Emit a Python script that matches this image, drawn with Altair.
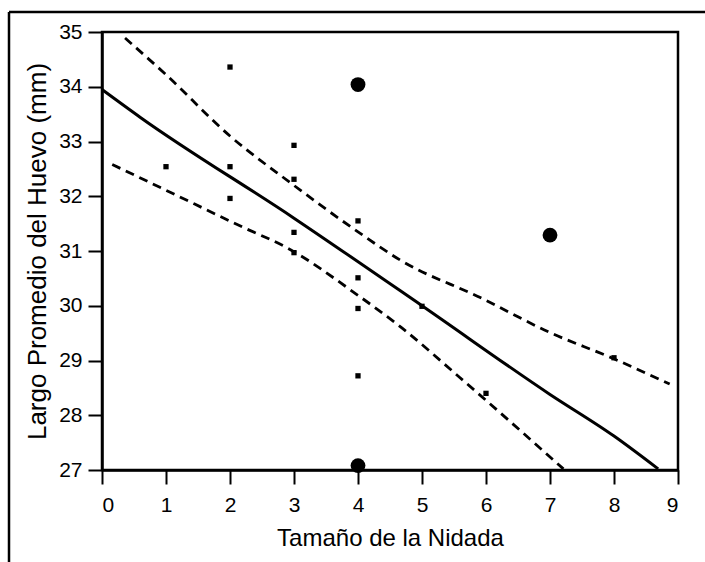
import altair as alt
import pandas as pd

# Observed data (small squares)
pts_x = [1, 2, 2, 2, 3, 3, 3, 3, 4, 4, 4, 4, 5, 6, 8]
pts_y = [32.54, 34.36, 32.54, 31.96, 32.93, 32.31, 31.34, 30.97,
         31.55, 30.51, 29.95, 28.72, 29.99, 28.40, 29.05]

# Highlighted points (large circles)
big_x = [4, 7, 4]
big_y = [34.04, 31.29, 27.08]

# Regression line
fit_x = [0, 0.6, 3.0, 5.0, 7.0, 8.0, 8.69]
fit_y = [33.95, 33.44, 31.6, 30.0, 28.38, 27.62, 27.02]

# Upper confidence band
up_x = [0.36, 1.0, 2.0, 2.94, 4.0, 4.68, 5.91, 7.0, 7.96, 8.87]
up_y = [34.89, 34.22, 33.10, 32.25, 31.35, 30.82, 30.15, 29.51, 29.05, 28.57]

# Lower confidence band
lo_x = [0.16, 1.0, 2.21, 2.89, 4.0, 4.68, 5.59, 7.21]
lo_y = [32.58, 32.11, 31.43, 31.06, 30.19, 29.60, 28.69, 27.02]

x_ticks = [0, 1, 2, 3, 4, 5, 6, 7, 8, 9]
y_ticks = [27, 28, 29, 30, 31, 32, 33, 34, 35]

FONT = "Liberation Sans"

X = alt.X("x:Q", scale=alt.Scale(domain=[0, 9], nice=False, zero=False),
          axis=alt.Axis(values=x_ticks, title="Tamaño de la Nidada", format="d",
                        labelFontSize=21, labelPadding=10, tickSize=14,
                        titleFontSize=24, titleFontWeight="normal",
                        titleX=288, titleY=75, titleAlign="center",
                        titleBaseline="alphabetic"))
Y = alt.Y("y:Q", scale=alt.Scale(domain=[27, 35], nice=False, zero=False),
          axis=alt.Axis(values=y_ticks, title="Largo Promedio del Huevo (mm)", format="d",
                        labelFontSize=21, labelPadding=6, tickSize=14,
                        titleFontSize=26, titleFontWeight="normal",
                        titleX=-57, titleY=219, titleAlign="center",
                        titleBaseline="alphabetic", titleAngle=270))

df_pts = pd.DataFrame({"x": pts_x, "y": pts_y})
df_big = pd.DataFrame({"x": big_x, "y": big_y})
df_fit = pd.DataFrame({"x": fit_x, "y": fit_y})
df_up = pd.DataFrame({"x": up_x, "y": up_y})
df_lo = pd.DataFrame({"x": lo_x, "y": lo_y})
df_one = pd.DataFrame({"k": [0]})

fit = alt.Chart(df_fit).mark_line(color="black", strokeWidth=3, interpolate="monotone").encode(x=X, y=Y)
up = alt.Chart(df_up).mark_line(color="black", strokeWidth=2.8, strokeDash=[9, 6],
                                interpolate="monotone").encode(x=X, y=Y)
lo = alt.Chart(df_lo).mark_line(color="black", strokeWidth=2.8, strokeDash=[9, 6],
                                interpolate="monotone").encode(x=X, y=Y)
pts = alt.Chart(df_pts).mark_point(shape="square", filled=True, color="black", size=28, opacity=1).encode(x=X, y=Y)
big = alt.Chart(df_big).mark_circle(color="black", size=220, opacity=1).encode(x=X, y=Y)

frame_top = alt.Chart(df_one).mark_rule(color="black", strokeWidth=2.5).encode(
    x=alt.value(-93), x2=alt.value(603), y=alt.value(-20))
frame_left = alt.Chart(df_one).mark_rule(color="black", strokeWidth=2.5).encode(
    x=alt.value(-93), y=alt.value(-20), y2=alt.value(530))

chart = alt.layer(lo, up, fit, pts, big, frame_top, frame_left).properties(
    width=576, height=438,
    autosize=alt.AutoSizeParams(type="none"),
    padding={"left": 102, "top": 32, "right": 27, "bottom": 92},
    background="white",
).configure_view(
    stroke="black", strokeWidth=2.5
).configure_axis(
    grid=False, domainColor="black", domainWidth=2.5, tickColor="black", tickWidth=2,
    labelColor="black", titleColor="black", labelFont=FONT, titleFont=FONT
)

chart.save("out.html", embed_options={"renderer": "svg", "actions": False})
